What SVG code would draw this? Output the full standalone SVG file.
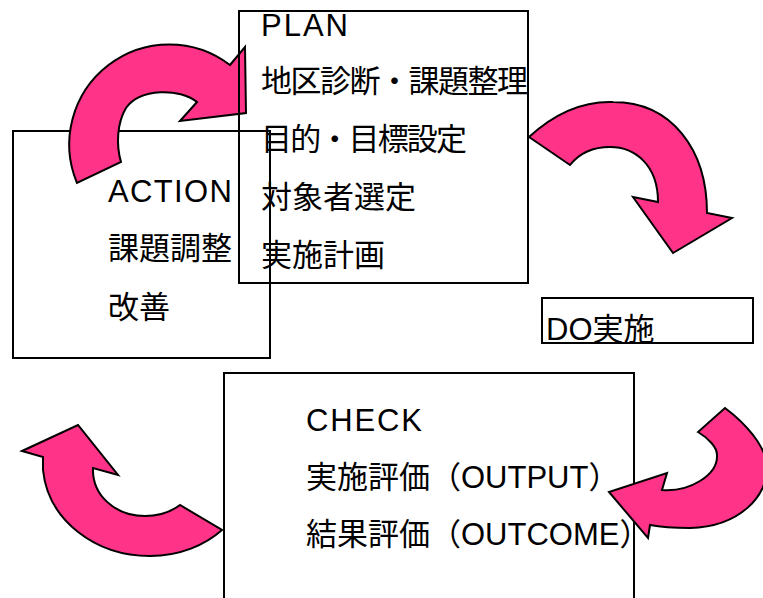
<svg xmlns="http://www.w3.org/2000/svg" width="763" height="598" viewBox="0 0 763 598">
<style>
.box{fill:none;stroke:#000;stroke-width:2}
.arrow{fill:#FF3388;stroke:#000;stroke-width:2;stroke-linejoin:miter}
text{font-family:"Liberation Sans","Noto Sans CJK JP",sans-serif;font-size:31px;fill:#000}
</style>
<rect width="763" height="598" fill="#fff"/>
<g id="action">
<rect class="box" x="13" y="131" width="257" height="227"/>
<text x="108" y="202" textLength="124" lengthAdjust="spacing">ACTION</text>
<text x="108" y="259">課題調整</text>
<text x="108" y="318">改善</text>
</g>
<g id="check">
<rect class="box" x="224" y="373" width="410" height="240"/>
<text x="306" y="431" textLength="116" lengthAdjust="spacing">CHECK</text>
<text x="306" y="488">実施評価（OUTPUT）</text>
<text x="306" y="545">結果評価（OUTCOME）</text>
</g>
<g id="do">
<rect class="box" x="542" y="298" width="211" height="45"/>
<text x="546" y="340">DO実施</text>
</g>
<g id="connectors">
<path class="arrow" d="M 77,183 A 100 100 0 0 1 230,65 L 245,47 L 246,113 L 180,121 L 197,102 C 180,88 140,88 126,108 C 117,123 116,145 121,162 Z"/>
<path class="arrow" d="M 529,137 C 554,114 583,101 613,102 C 672,102 707,150 707,213 L 732,218 L 673,253 L 633,197 L 658,202 C 658,165 635,147 610,147 C 590,147 578,155 570,165 Z"/>
<path class="arrow" d="M 725,408 C 745,423 765,445 767,465 C 769,495 740,527 690,528 C 675,528 660,527 650,525 L 648,538 L 609,492 L 667,473 L 662,490 C 690,492 718,475 717,455 C 717,447 708,438 698,432 Z"/>
<path class="arrow" d="M 22,451 L 78,425 L 118,475 L 93,468 C 92,495 115,516 145,516 C 160,516 172,511 180,505 L 222,530 C 205,545 180,556 150,556 C 95,556 48,520 43,470 L 43,457 Z"/>
</g>
<g id="plan">
<rect class="box" x="239" y="11" width="289" height="272"/>
<text x="261" y="36" textLength="87" lengthAdjust="spacing">PLAN</text>
<text x="261" y="92" textLength="267" lengthAdjust="spacing">地区診断・課題整理</text>
<text x="261" y="150" textLength="206" lengthAdjust="spacing">目的・目標設定</text>
<text x="261" y="208">対象者選定</text>
<text x="261" y="266">実施計画</text>
</g>
</svg>
